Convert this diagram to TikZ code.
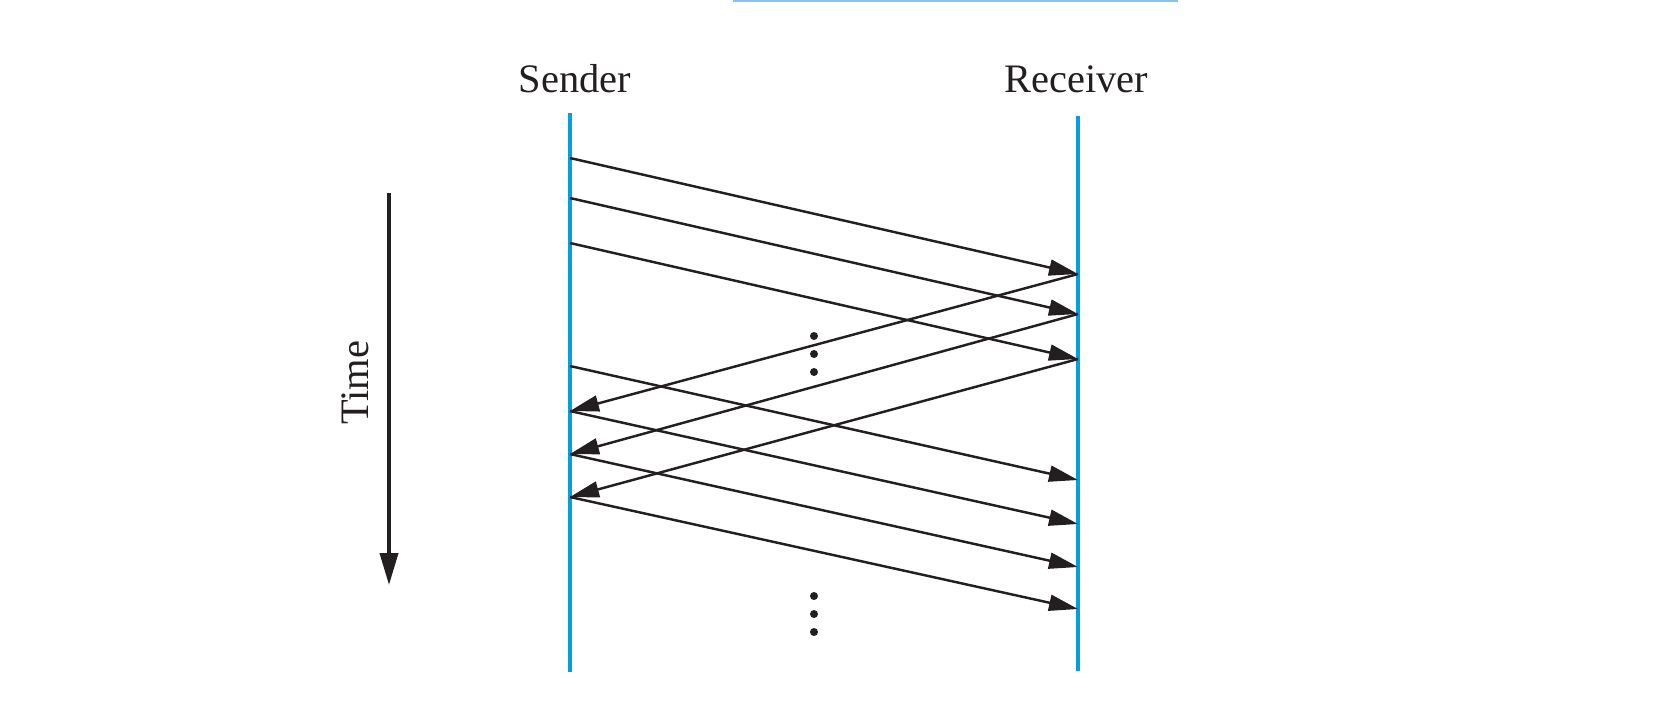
\documentclass[tikz,border=0pt]{standalone}
\usepackage{fontspec}
\setmainfont{Liberation Serif}
\usetikzlibrary{arrows.meta}
\definecolor{lifeblue}{RGB}{0,160,227}
\definecolor{paleblue}{RGB}{140,195,232}
\definecolor{inkdark}{RGB}{35,31,32}

\begin{document}
\begin{tikzpicture}
                [x=0.01cm,y=-0.01cm,
                lifeline/.style={draw=lifeblue,line width=1.2pt},
                msg/.style={draw=inkdark,line width=0.7pt,-{Triangle[length=2.9mm,width=1.6mm]}},
                lbl/.style={font=\fontsize{11.5}{13}\selectfont,text=inkdark,inner sep=0pt,anchor=base},
                dot/.style={circle,fill=inkdark,inner sep=0pt,minimum size=0.08cm}]
                \useasboundingbox (0,0) rectangle (1654,723);
                % top rule
                \coordinate (ta) at (733,0.5);
                \coordinate (tb) at (1178,0.5);
                \draw[paleblue,line width=0.8pt] (ta) -- (tb);
                % headings
                \node[lbl] (sender) at (575,92) {Sender};
                \node[lbl] (receiver) at (1076,92) {Receiver};
                % lifelines
                \coordinate (stop) at (570,113);
                \coordinate (sbot) at (570,672);
                \coordinate (rtop) at (1078,116);
                \coordinate (rbot) at (1078,671);
                \path[lifeline] (stop) -- (sbot);
                \path[lifeline] (rtop) -- (rbot);
                % points on the sender side
                \coordinate (s1) at (570,158);
                \coordinate (s2) at (570,198);
                \coordinate (s3) at (570,243);
                \coordinate (s4) at (570,366);
                \coordinate (s5) at (570,411);
                \coordinate (s6) at (570,454);
                \coordinate (s7) at (570,497);
                % points on the receiver side
                \coordinate (r1) at (1078,274);
                \coordinate (r2) at (1078,314);
                \coordinate (r3) at (1078,359);
                \coordinate (r4) at (1078,480);
                \coordinate (r5) at (1078,524);
                \coordinate (r6) at (1078,567);
                \coordinate (r7) at (1078,609);
                % packets
                \path[msg] (s1) -- (r1);
                \path[msg] (s2) -- (r2);
                \path[msg] (s3) -- (r3);
                \path[msg] (s4) -- (r4);
                \path[msg] (s5) -- (r5);
                \path[msg] (s6) -- (r6);
                \path[msg] (s7) -- (r7);
                % acknowledgements
                \path[msg] (r1) -- (s5);
                \path[msg] (r2) -- (s6);
                \path[msg] (r3) -- (s7);
                % ellipses
                \node[dot] (u1) at (814,336) {};
                \node[dot] (u2) at (814,354) {};
                \node[dot] (u3) at (814,372) {};
                \node[dot] (l1) at (814,596) {};
                \node[dot] (l2) at (814,614) {};
                \node[dot] (l3) at (814,632) {};
                % time axis
                \coordinate (ttop) at (389,193);
                \coordinate (tbot) at (389,585);
                \draw[inkdark,line width=1.1pt,-{Triangle[length=3.2mm,width=1.8mm]}] (ttop) -- (tbot);
                \node[lbl,rotate=90] (time) at (368,383) {Time};
\end{tikzpicture}
\end{document}
